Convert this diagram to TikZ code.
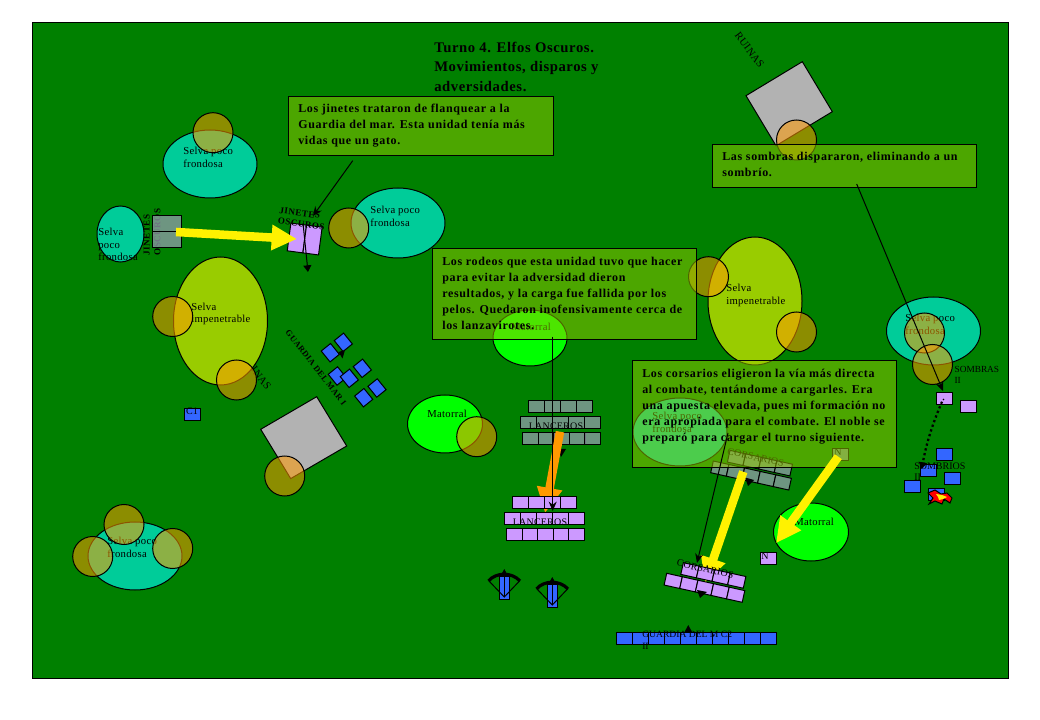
\documentclass[tikz,border=0pt]{standalone}
\usepackage{fontspec}
\setmainfont{Liberation Serif}
\newfontfamily\bxfont[LetterSpace=5.6]{Liberation Serif Bold}
\newfontfamily\ttlfont[LetterSpace=4]{Liberation Serif Bold}
\newfontfamily\unfont[LetterSpace=2]{Liberation Serif}
\newfontfamily\lblfont[LetterSpace=3]{Liberation Serif}
\usetikzlibrary{arrows.meta}
\definecolor{field}{HTML}{008000}
\definecolor{selvac}{HTML}{00CC99}
\definecolor{impen}{HTML}{99CC00}
\definecolor{mator}{HTML}{00FF00}
\definecolor{ruin}{HTML}{B2B2B2}
\definecolor{blueu}{HTML}{3366FF}
\definecolor{lilac}{HTML}{CC99FF}
\definecolor{ghost}{HTML}{939DAD}
\definecolor{tree}{HTML}{FF9900}
\tikzset{
 line/.style={line width=.75pt,draw=black},
 tcirc/.style={line,fill=tree,fill opacity=.55},
 lbl/.style={anchor=base west,inner sep=0pt,font=\lblfont\fontsize{8pt}{9.4pt}\selectfont,align=left},
 plbl/.style={anchor=base west,inner sep=0pt,font=\fontsize{7.2pt}{8.5pt}\selectfont,align=left},
 ulbl/.style={inner sep=0pt,font=\unfont\fontsize{7.5pt}{9pt}\selectfont,align=left},
 rlbl/.style={inner sep=0pt,font=\lblfont\fontsize{8pt}{9pt}\selectfont},
 blbl/.style={inner sep=0pt,font=\bxfont\fontsize{6.8pt}{8pt}\selectfont,align=left},
 note/.style={line,fill=impen,fill opacity=.5},
 notetext/.style={anchor=base west,inner sep=0pt,align=left,font=\bxfont\fontsize{9pt}{12pt}\selectfont},
 unitl/.style={line,fill=lilac,rectangle,inner sep=0pt,minimum width=12pt,minimum height=9pt},
 unitb/.style={unitl,fill=blueu},
 unitg/.style={unitl,fill=ghost,fill opacity=.75},
 bigarrow/.style={line width=6.4pt,-{Triangle[length=19pt,width=18pt]}},
 thin arrow/.style={line,-{Stealth[length=7pt,width=6pt]}},
 tinyarrow/.style={line,-{Triangle[length=5pt,width=6pt]}}
}
\begin{document}
\begin{tikzpicture}[x=.75pt,y=-.75pt]
\useasboundingbox (0,0) rectangle (1040,720);
\fill[white] (0,0) rectangle (1040,720);
\draw[line,fill=field] (32,23) rectangle (1008,678);

% title
\node[anchor=base west,inner sep=0pt,align=left,font=\ttlfont\fontsize{11pt}{14.8pt}\selectfont] (title) at (434,91.5) {Turno 4. Elfos Oscuros.\\Movimientos, disparos y\\adversidades.};

% ruins
\node[rlbl,rotate=-53] (r1txt) at (749.5,50) {RUINAS};
\node[rlbl,rotate=-53] (r2txt) at (256.5,372) {RUINAS};
\draw[line,fill=ruin] (746,95.7) -- (802.3,61.7) -- (832.3,111.7) -- (776,145.7) -- cycle;
\draw[line,fill=ruin] (260.7,429.3) -- (316.7,396.7) -- (346.7,446) -- (290.7,478.6) -- cycle;

% terrain
\draw[line,fill=selvac] (210,164) ellipse [x radius=47,y radius=34];
\draw[line,fill=selvac] (120.5,234) ellipse [x radius=23.5,y radius=28];
\draw[line,fill=selvac] (398,223) ellipse [x radius=47,y radius=35];
\draw[line,fill=selvac] (933.5,331) ellipse [x radius=47,y radius=34];
\draw[line,fill=selvac] (680,432) ellipse [x radius=47,y radius=34];
\draw[line,fill=selvac] (135,556) ellipse [x radius=47,y radius=34];
\draw[line,fill=impen] (220.5,321) ellipse [x radius=47,y radius=64];
\draw[line,fill=impen] (755,301) ellipse [x radius=47,y radius=64];
\draw[line,fill=mator] (445,424) ellipse [x radius=37.5,y radius=29];
\draw[line,fill=mator] (530,338) ellipse [x radius=37,y radius=28];
\draw[line,fill=mator] (811,532) ellipse [x radius=37.5,y radius=29];

\node[lbl] (s1) at (183,167.5) {Selva poco\\frondosa};
\node[lbl] (s2) at (98,261) {Selva\\poco\\frondosa};
\node[lbl] (s3) at (370,226.5) {Selva poco\\frondosa};
\node[lbl] (s4) at (905,334.5) {Selva poco\\frondosa};
\node[lbl] (s5) at (652,432.5) {Selva poco\\frondosa};
\node[lbl] (s6) at (107,557.5) {Selva poco\\frondosa};
\node[lbl] (i1) at (191,323) {Selva\\impenetrable};
\node[lbl] (i2) at (726,304.5) {Selva\\impenetrable};
\node[lbl] (m1) at (427,418) {Matorral};
\node[lbl] (m2) at (511,331) {Matorral};
\node[lbl] (m3) at (794,526) {Matorral};

% tree circles
\foreach \cx/\cy in {213/132.7,348.7/228,172.7/316.5,236.5/380,284.7/476,476.7/436.7,708.5/276.7,796.5/332,796.5/140,924.5/333,932.5/364.5,124/524.5,92.7/556.5,172.7/548.5}
  \draw[tcirc] (\cx,\cy) circle [radius=20];

% old positions (ghost)
\node[blbl,rotate=90] (jgt) at (152,232) {JINETES\\OSCUROS};
\node[unitg,minimum width=21.75pt,minimum height=12pt] (jg1) at (166.5,224) {};
\node[unitg,minimum width=21.75pt,minimum height=12pt] (jg2) at (166.5,240) {};
% lanceros ghost
\foreach \i in {0,...,3} \node[unitg] (lga\i) at ({536+16*\i},406.5) {};
\foreach \i in {0,...,4} \node[unitg] (lgb\i) at ({528+16*\i},422.5) {};
\foreach \i in {0,...,4} \node[unitg] (lgc\i) at ({530.5+15.5*\i},438.5) {};
\node[ulbl] (lgt) at (556,426) {LANCEROS};
\fill[black] (558,449) -- (566,449) -- (561,457) -- cycle;
% corsarios ghost
\begin{scope}[shift={(713.3,461)},rotate=-12.5,transform shape]
 \foreach \i in {0,...,4} \node[unitg] (cga\i) at ({8+16*\i},6) {};
 \foreach \i in {0,...,3} \node[unitg] (cgb\i) at ({22+16*\i},-8) {};
\end{scope}
\node[ulbl,rotate=-12.5] (cgt) at (755.7,457.3) {CORSARIOS};
\node[unitg] (ng) at (840,454.5) {};
\node[ulbl] (ngt) at (838,452) {N};

% small arrows
\fill[black] (745,477.5) -- (754,480) -- (748,486) -- cycle;

% big arrows under lilac units
\coordinate (oa1) at (560,431.7);
\coordinate (oa2) at (545,513);
\draw[bigarrow,draw=tree] (oa1) -- (oa2);
\coordinate (ya1) at (743.3,471.7);
\coordinate (ya2) at (705,583);
\draw[bigarrow,draw=yellow] (ya1) -- (ya2);

% jinetes
\begin{scope}[shift={(304.7,239)},rotate=-7.5,transform shape]
 \node[unitl,minimum width=11.8pt,minimum height=21pt] (j1) at (-7.9,0) {};
 \node[unitl,minimum width=11.8pt,minimum height=21pt] (j2) at (7.9,0) {};
\end{scope}
\node[blbl,rotate=-7.5] (jt) at (302,218.7) {JINETES\\OSCUROS};
\coordinate (ja1) at (303,223);
\coordinate (ja2) at (308,272);
\draw[tinyarrow] (ja1) -- (ja2);
\coordinate (yj1) at (176,232);
\coordinate (yj2) at (297,239);
\draw[bigarrow,draw=yellow] (yj1) -- (yj2);

% lanceros
\foreach \i in {0,...,3} \node[unitl] (la\i) at ({520+16*\i},502.5) {};
\foreach \i in {0,...,4} \node[unitl] (lb\i) at ({512+16*\i},518.5) {};
\foreach \i in {0,...,4} \node[unitl] (lc\i) at ({514.5+15.5*\i},534.5) {};
\node[ulbl] (lt) at (540,522) {LANCEROS};

% corsarios
\begin{scope}[shift={(666.7,573.3)},rotate=-12.5,transform shape]
 \foreach \i in {0,...,4} \node[unitl] (ca\i) at ({8+16*\i},6) {};
 \foreach \i in {0,...,3} \node[unitl] (cb\i) at ({22+16*\i},-8) {};
\end{scope}
\node[ulbl,rotate=-12.5] (ct) at (705.3,569) {CORSARIOS};
\fill[black] (697,590) -- (707,592) -- (700,598) -- cycle;
\node[unitl] (n1) at (768,558.3) {};
\node[ulbl] (nt) at (765,556) {N};

% guardia row
\foreach \i in {0,...,9} \node[unitb] (gm\i) at ({624.3+16*\i},638.3) {};
\node[plbl] (gmt) at (642,649) {GUARDIA DEL M C2\\II};
\fill[black] (684.5,632) -- (692,632) -- (688.3,625) -- cycle;

% C1
\node[unitb] (c1) at (192,414.3) {};
\node[ulbl] (c1t) at (192,411) {C1};

% guardia del mar I
\foreach \cx/\cy/\dn in {330.3/352.7/1,343.3/342.3/2,337.3/376/3,349.3/378.3/4,362.3/368.3/5,363.7/397.7/6,377/388/7}
  \node[unitb,rotate=-51,minimum width=10.5pt,minimum height=9pt] (gd\dn) at (\cx,\cy) {};
\fill[black] (338.5,352) -- (345,350) -- (342.5,358.5) -- cycle;
\node[blbl,rotate=-52,font=\bxfont\fontsize{6.3pt}{8pt}\selectfont] (gmi) at (316,367.7) {GUARDIA DEL MAR I};

% crossbows
\foreach \dx/\dy/\cn in {0/0/a,48/8/b}{
 \begin{scope}[shift={(\dx,\dy)}]
  \node[unitb,minimum width=7.5pt,minimum height=17.5pt] (bow\cn) at (504.3,588.3) {};
  \draw[line] (489,581) -- (504.3,597) -- (519.5,581);
  \draw[line width=2.4pt] (488.5,581) .. controls (496,572) and (512,572) .. (520,581);
  \draw[line] (504.3,570) -- (504.3,597);
  \fill[black] (501.5,574) -- (507,574) -- (504.3,569) -- cycle;
 \end{scope}
}

% sombras / sombrios
\node[unitl] (so1) at (944,398.3) {};
\node[unitl] (so2) at (968,406.3) {};
\node[unitb] (sb1) at (944,454.7) {};
\node[unitb] (sb2) at (928,470.7) {};
\node[unitb] (sb3) at (952,478.3) {};
\node[unitb] (sb4) at (912,486.3) {};
\node[unitb] (sb5) at (936,494.3) {};
\node[plbl,font=\fontsize{7pt}{8.5pt}\selectfont] (sot) at (954.3,384) {SOMBRAS\\II};
\node[plbl,font=\fontsize{7.5pt}{8.5pt}\selectfont] (sbt) at (914,481) {SOMBRIOS\\II};
\coordinate (sa1) at (942,401.7);
\coordinate (sa2) at (921.7,469);
\draw[line width=1.7pt,dotted,-{Triangle[length=5pt,width=6pt]}] (sa1) .. controls (932,425) and (926,445) .. (sa2);
\fill[black] (943.5,399.5) circle [radius=.9];
\draw[line,fill=red] (928,493) -- (935,490) -- (941,494) -- (947,493) -- (952,498) -- (950,503) -- (944,499) -- (942,504) -- (935,501) -- (929,504) -- (933,498) -- cycle;
\fill[yellow] (936,494) -- (942,495) -- (947,497) -- (943,499) -- (939,500) -- (938,497) -- cycle;

% note boxes
\draw[note] (288.3,96.7) rectangle (553,155.7);
\node[notetext] (n1t) at (298,145) {Los jinetes trataron de flanquear a la\\Guardia del mar. Esta unidad tenía más\\vidas que un gato.};
\draw[note] (432.7,248.3) rectangle (696.7,339.3);
\node[notetext] (n2t) at (442,330) {Los rodeos que esta unidad tuvo que hacer\\para evitar la adversidad dieron\\resultados, y la carga fue fallida por los\\pelos. Quedaron inofensivamente cerca de\\los lanzavirotes.};
\draw[note] (632.7,360.7) rectangle (896.7,467.3);
\node[notetext] (n3t) at (642,441.5) {Los corsarios eligieron la vía más directa\\al combate, tentándome a cargarles. Era\\una apuesta elevada, pues mi formación no\\era apropiada para el combate. El noble se\\preparó para cargar el turno siguiente.};
\draw[note] (712.7,144.3) rectangle (976.7,187.3);
\node[notetext] (n4t) at (722,177) {Las sombras dispararon, eliminando a un\\sombrío.};

% connectors over notes
\coordinate (l1a) at (352.7,160.7);
\coordinate (l1b) at (313,216);
\draw[thin arrow] (l1a) -- (l1b);
\coordinate (l2a) at (552.7,336.7);
\coordinate (l2b) at (552.7,511);
\draw[thin arrow] (l2a) -- (l2b);
\coordinate (l3a) at (728,433);
\coordinate (l3b) at (697,563);
\draw[thin arrow] (l3a) -- (l3b);
\coordinate (l4a) at (856.7,184);
\coordinate (l4b) at (943,391);
\draw[thin arrow] (l4a) -- (l4b);
\coordinate (yn1) at (838.3,456.7);
\coordinate (yn2) at (776,543.3);
\draw[bigarrow,draw=yellow] (yn1) -- (yn2);
\end{tikzpicture}
\end{document}
